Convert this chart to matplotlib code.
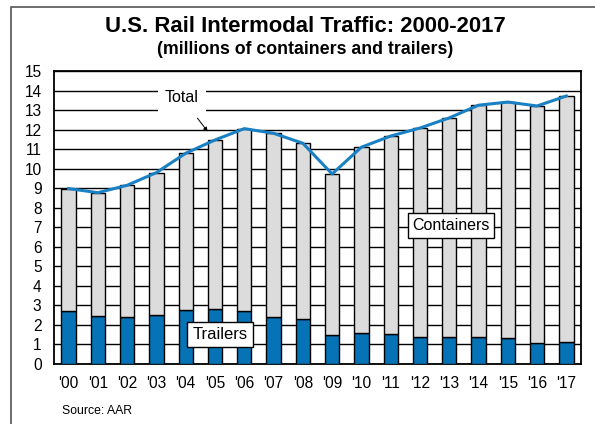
import matplotlib
matplotlib.use("Agg")
import matplotlib.pyplot as plt
from matplotlib.patches import Rectangle
import numpy as np

plt.rcParams['font.family'] = ['Liberation Sans', 'DejaVu Sans']

years = ["'00", "'01", "'02", "'03", "'04", "'05", "'06", "'07", "'08",
         "'09", "'10", "'11", "'12", "'13", "'14", "'15", "'16", "'17"]
total = [8.98, 8.77, 9.15, 9.80, 10.79, 11.47, 12.05, 11.81, 11.30,
         9.73, 11.10, 11.67, 12.08, 12.60, 13.25, 13.41, 13.21, 13.72]
trailers = [2.71, 2.44, 2.39, 2.49, 2.76, 2.82, 2.71, 2.39, 2.32,
            1.50, 1.57, 1.55, 1.38, 1.37, 1.40, 1.33, 1.06, 1.13]
containers = [t - r for t, r in zip(total, trailers)]

fig = plt.figure(figsize=(5.95, 4.24), dpi=100)
ax = fig.add_axes([54/595, 1-364/424, 527/595, 293/424])

x = np.arange(len(years))
ax.bar(x, trailers, width=0.49, color='#0573b5', edgecolor='black', linewidth=1, zorder=3)
ax.bar(x, containers, width=0.49, bottom=trailers, color='#dcdcdc',
       edgecolor='black', linewidth=1, zorder=3)
ax.plot(x, total, color='#1a80c4', linewidth=2.2, zorder=4)

ax.set_xlim(-0.5, len(years) - 0.5)
ax.set_ylim(0, 15)
ax.set_yticks(range(0, 16))
ax.set_xticks(x)
ax.set_xticklabels(years)
ax.tick_params(axis='both', length=0, labelsize=11.2)
ax.tick_params(axis='x', pad=9)
ax.tick_params(axis='y', pad=9)
ax.yaxis.grid(True, color='black', linewidth=1, zorder=0)
ax.set_axisbelow(True)
for s in ax.spines.values():
    s.set_linewidth(1.3)

ax.annotate('Total', xy=(4.75, 11.9), xytext=(3.87, 13.62),
            fontsize=11.5, ha='center', va='center',
            bbox=dict(boxstyle='square,pad=0.45', fc='white', ec='none'),
            arrowprops=dict(arrowstyle='-|>', color='black', lw=0.7,
                            mutation_scale=6, shrinkA=5, shrinkB=0),
            zorder=5)
ax.text(5.17, 1.51, 'Trailers', fontsize=12, ha='center', va='center', zorder=5,
        bbox=dict(boxstyle='square,pad=0.3', fc='white', ec='black', lw=1))
ax.text(13.06, 7.09, 'Containers', fontsize=11.5, ha='center', va='center', zorder=5,
        bbox=dict(boxstyle='square,pad=0.3', fc='white', ec='black', lw=1))

fig.text(305/595, 1-27/424, 'U.S. Rail Intermodal Traffic: 2000-2017',
         fontsize=15.9, fontweight='bold', ha='center', va='center')
fig.text(305/595, 1-50/424, '(millions of containers and trailers)',
         fontsize=12.8, fontweight='bold', ha='center', va='center')
fig.text(62/595, 1-411/424, 'Source: AAR', fontsize=8.8, ha='left', va='center')

fig.patches.append(Rectangle((11/595, -0.05), 1.0, 1 - 7/424 + 0.05,
                             transform=fig.transFigure, fill=False,
                             edgecolor='#555555', linewidth=1.2))

fig.savefig('out.png', dpi=100)
